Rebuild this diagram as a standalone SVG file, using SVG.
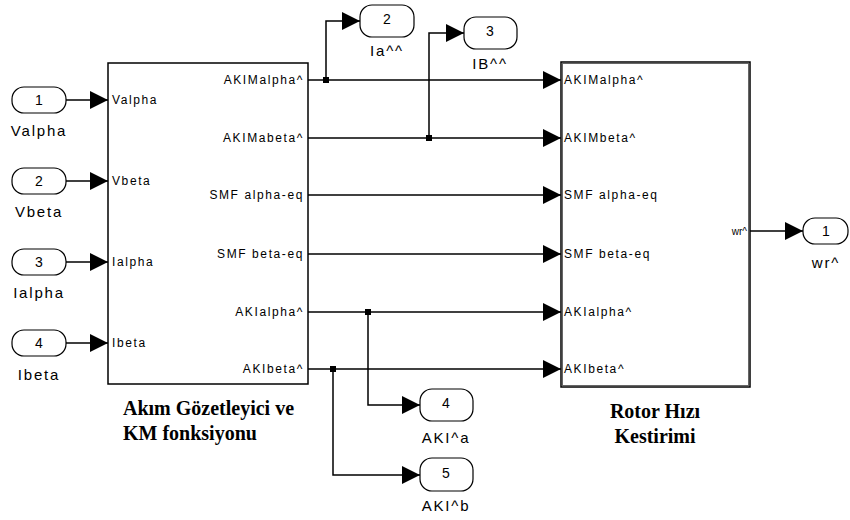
<svg xmlns="http://www.w3.org/2000/svg" width="850" height="520" viewBox="0 0 850 520">
<defs>
<marker id="ah" markerUnits="userSpaceOnUse" markerWidth="20" markerHeight="18" refX="18" refY="9" orient="auto">
<path d="M0,0 L18,9 L0,18 Z" fill="#000"/>
</marker>
<style>
.port{fill:#fff;stroke:#000;stroke-width:1.2}
.num{font-family:"Liberation Sans",Arial,sans-serif;font-size:14px;text-anchor:middle}
.plab{font-family:"Liberation Sans",Arial,sans-serif;font-size:15px;letter-spacing:1.8px;text-anchor:middle}
.blab{font-family:"Liberation Sans",Arial,sans-serif;font-size:12px;letter-spacing:1.6px}
.cap{font-family:"Liberation Serif","Times New Roman",serif;font-size:20px;font-weight:bold}
.wa{fill:none;stroke:#000;stroke-width:1.5;marker-end:url(#ah)}
</style>
</defs>
<rect width="850" height="520" fill="#fff"/>

<g id="connectors">
<path class="wa" d="M66,100 H108"/>
<path class="wa" d="M66,181 H108"/>
<path class="wa" d="M66,262 H108"/>
<path class="wa" d="M66,343 H108"/>
<path class="wa" d="M308,80 H561"/>
<path class="wa" d="M308,138 H561"/>
<path class="wa" d="M308,195 H561"/>
<path class="wa" d="M308,254 H561"/>
<path class="wa" d="M308,312 H561"/>
<path class="wa" d="M308,369 H561"/>
<path class="wa" d="M326,80 V21 H360"/>
<path class="wa" d="M429,138 V33 H464"/>
<path class="wa" d="M368,312 V405 H420"/>
<path class="wa" d="M333,369 V475 H420"/>
<path class="wa" d="M750,231 H803"/>
<rect x="323" y="77" width="6" height="6"/>
<rect x="426" y="135" width="6" height="6"/>
<rect x="365" y="309" width="6" height="6"/>
<rect x="330" y="366" width="6" height="6"/>
</g>

<g id="in1"><rect class="port" x="12" y="87" width="54" height="26" rx="12"/><text class="num" x="39" y="105">1</text><text class="plab" x="39" y="136">Valpha</text></g>
<g id="in2"><rect class="port" x="12" y="168" width="54" height="26" rx="12"/><text class="num" x="39" y="186">2</text><text class="plab" x="39" y="217">Vbeta</text></g>
<g id="in3"><rect class="port" x="12" y="249" width="54" height="26" rx="12"/><text class="num" x="39" y="267">3</text><text class="plab" x="39" y="298">Ialpha</text></g>
<g id="in4"><rect class="port" x="12" y="330" width="54" height="26" rx="12"/><text class="num" x="39" y="348">4</text><text class="plab" x="39" y="380">Ibeta</text></g>

<g id="observer">
<rect x="108" y="63" width="200" height="321" fill="none" stroke="#000" stroke-width="1.5"/>
<text class="blab" x="112" y="104">Valpha</text>
<text class="blab" x="112" y="185">Vbeta</text>
<text class="blab" x="112" y="266">Ialpha</text>
<text class="blab" x="112" y="347">Ibeta</text>
<text class="blab" x="304" y="84" text-anchor="end">AKIMalpha^</text>
<text class="blab" x="304" y="142" text-anchor="end">AKIMabeta^</text>
<text class="blab" x="304" y="199" text-anchor="end">SMF alpha-eq</text>
<text class="blab" x="304" y="258" text-anchor="end">SMF beta-eq</text>
<text class="blab" x="304" y="316" text-anchor="end">AKIalpha^</text>
<text class="blab" x="304" y="373" text-anchor="end">AKIbeta^</text>
<text class="cap" x="123" y="415">Akım Gözetleyici ve</text>
<text class="cap" x="123" y="440">KM fonksiyonu</text>
</g>

<g id="estimator">
<rect x="561" y="62" width="189" height="325" fill="none" stroke="#000" stroke-width="1.5"/>
<rect x="562.5" y="63.5" width="186" height="322" fill="none" stroke="#666" stroke-width="1"/>
<text class="blab" x="564" y="84">AKIMalpha^</text>
<text class="blab" x="564" y="142">AKIMbeta^</text>
<text class="blab" x="564" y="199">SMF alpha-eq</text>
<text class="blab" x="564" y="258">SMF beta-eq</text>
<text class="blab" x="564" y="316">AKIalpha^</text>
<text class="blab" x="564" y="373">AKIbeta^</text>
<text class="blab" x="747" y="235" text-anchor="end" style="font-size:10px;letter-spacing:0">wr^</text>
<text class="cap" x="655" y="418" text-anchor="middle">Rotor Hızı</text>
<text class="cap" x="655" y="443" text-anchor="middle">Kestirimi</text>
</g>

<g id="out1"><rect class="port" x="803" y="218" width="45" height="26" rx="12"/><text class="num" x="826" y="236">1</text><text class="plab" x="826" y="268">wr^</text></g>
<g id="out2"><rect class="port" x="360" y="5" width="54" height="32" rx="12"/><text class="num" x="387" y="24">2</text><text class="plab" x="387" y="56">Ia^^</text></g>
<g id="out3"><rect class="port" x="464" y="17" width="53" height="32" rx="12"/><text class="num" x="490" y="36">3</text><text class="plab" x="490" y="69">IB^^</text></g>
<g id="out4"><rect class="port" x="420" y="389" width="53" height="32" rx="12"/><text class="num" x="446" y="408">4</text><text class="plab" x="446" y="443">AKI^a</text></g>
<g id="out5"><rect class="port" x="420" y="458" width="53" height="33" rx="12"/><text class="num" x="446" y="478">5</text><text class="plab" x="446" y="511">AKI^b</text></g>
</svg>
